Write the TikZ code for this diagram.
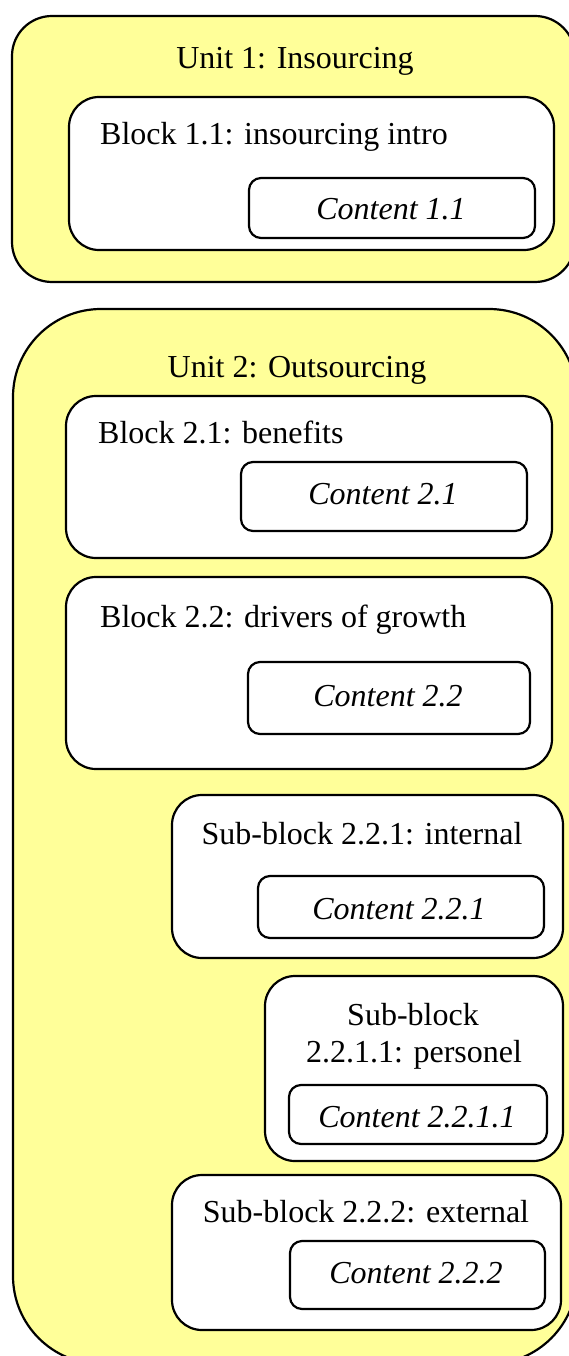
\documentclass[tikz,border=0pt]{standalone}
\usepackage{fontspec}
\setmainfont{Liberation Serif}
\definecolor{unityellow}{RGB}{255,255,153}
\newcommand\rbox[7]{\node[#2,minimum width={(#5-#3)*1pt},minimum height={(#6-#4)*1pt},rounded corners=#7pt] (#1) at (#3,#4) {};}
\begin{document}
\begin{tikzpicture}[x=1pt,y=-1pt,
  frame/.style={draw=black,line width=2.2pt,inner sep=0pt,outer sep=0pt,anchor=north west},
  unitbox/.style={frame,fill=unityellow},
  blockbox/.style={frame,fill=white},
  txt/.style={inner sep=0pt,font=\fontsize{32}{37}\selectfont,anchor=base},
  ltxt/.style={txt,anchor=base west},
  ctxt/.style={txt,font=\fontsize{32}{37}\selectfont\itshape}]
\useasboundingbox (0,0) rectangle (569,1356);
\fill[white] (0,0) rectangle (569,1356);
\clip (0,0) rectangle (569,1356);
% Unit 1
\rbox{u1}{unitbox}{12}{16}{575}{282}{40}
\node[txt] (u1t) at (295,69) {Unit 1: Insourcing};
\rbox{b11}{blockbox}{69}{97}{554}{250}{30}
\node[ltxt] (b11t) at (100,145) {Block 1.1: insourcing intro};
\rbox{c11}{blockbox}{249}{178}{535}{238}{12}
\node[ctxt] (c11t) at (391,220) {Content 1.1};
% Unit 2
\rbox{u2}{unitbox}{13}{309}{577}{1364}{88}
\node[txt] (u2t) at (297,377) {Unit 2: Outsourcing};
\rbox{b21}{blockbox}{66}{396}{552}{558}{30}
\node[ltxt] (b21t) at (98,443) {Block 2.1: benefits};
\rbox{c21}{blockbox}{241}{462}{527}{531}{12}
\node[ctxt] (c21t) at (383,504) {Content 2.1};
\rbox{b22}{blockbox}{66}{577}{552}{769}{30}
\node[ltxt] (b22t) at (100,627) {Block 2.2: drivers of growth};
\rbox{c22}{blockbox}{248}{662}{530}{734}{12}
\node[ctxt] (c22t) at (388,706) {Content 2.2};
\rbox{s221}{blockbox}{172}{795}{563}{958}{30}
\node[txt] (s221t) at (362,844) {Sub-block 2.2.1: internal};
\rbox{c221}{blockbox}{258}{876}{544}{938}{12}
\node[ctxt] (c221t) at (399,919) {Content 2.2.1};
\rbox{s2211}{blockbox}{265}{976}{563}{1161}{30}
\node[txt] (s2211ta) at (413,1025) {Sub-block};
\node[txt] (s2211tb) at (414,1062) {2.2.1.1: personel};
\rbox{c2211}{blockbox}{289}{1085}{547}{1144}{12}
\node[ctxt] (c2211t) at (417,1127) {Content 2.2.1.1};
\rbox{s222}{blockbox}{172}{1175}{561}{1330}{30}
\node[txt] (s222t) at (366,1222) {Sub-block 2.2.2: external};
\rbox{c222}{blockbox}{290}{1241}{545}{1309}{12}
\node[ctxt] (c222t) at (416,1283) {Content 2.2.2};
\end{tikzpicture}
\end{document}
